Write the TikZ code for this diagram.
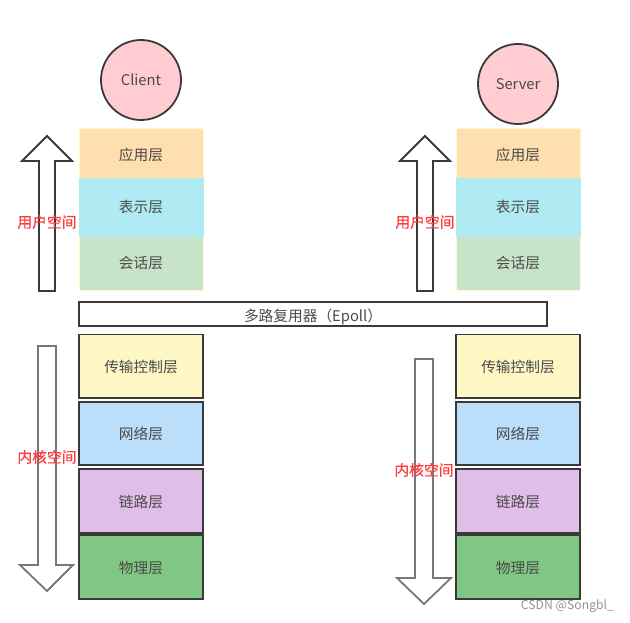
\documentclass[tikz,border=0pt]{standalone}
\usepackage{fontspec}
\setmainfont{Noto Sans CJK SC}
\newfontfamily\redfont[FakeBold=0.35]{Noto Sans CJK SC}
\definecolor{ink}{HTML}{3A3A3A}
\definecolor{txt}{HTML}{4A4A4A}
\definecolor{lblred}{HTML}{FF3B3B}
\definecolor{graystroke}{HTML}{777777}
\definecolor{FFCCD2}{HTML}{FFCCD2}
\definecolor{FFF9CC}{HTML}{FFF9CC}
\definecolor{appc}{HTML}{FFDFB0}
\definecolor{prec}{HTML}{B0EBF3}
\definecolor{sesc}{HTML}{C8E4C8}
\definecolor{trac}{HTML}{FFF8C4}
\definecolor{netc}{HTML}{BBDEFB}
\definecolor{linc}{HTML}{E1BEE7}
\definecolor{phyc}{HTML}{81C784}
\tikzset{
  layerbox/.style={minimum width=124pt,inner sep=0pt,outer sep=0pt,text=txt,font=\fontsize{14.7}{14.7}\selectfont,anchor=north west,line width=0.9pt,text height=12pt,text depth=0pt},
  hardbox/.style={layerbox,draw=ink,line width=1.8pt},
  round/.style={circle,draw=ink,line width=1.8pt,fill=FFCCD2,minimum size=80pt,inner sep=0pt,outer sep=0pt,text=txt,font=\fontsize{14.7}{14.7}\selectfont},
  uparrow/.style={draw=ink,line width=1.8pt,fill=white,line join=miter},
  downarrow/.style={draw=graystroke,line width=1.8pt,fill=white,line join=miter},
  spacelabel/.style={text=lblred,font=\fontsize{14.8}{14.8}\redfont,inner sep=0pt},
}
\newcommand{\stack}[2]{%
  \node[layerbox,draw=FFF9CC,fill=appc,minimum height=50pt,text height=16pt] (#2a) at (#1,128) {应用层};
  \node[layerbox,draw=FFF9CC,fill=sesc,minimum height=54pt] (#2c) at (#1,236) {会话层};
  \node[layerbox,draw=prec,fill=prec,minimum height=58pt] (#2b) at (#1,178) {表示层};
  \node[hardbox,fill=trac,minimum height=63.5pt] (#2d) at (#1,334.5) {传输控制层};
  \node[hardbox,fill=netc,minimum height=63pt] (#2e) at (#1,402) {网络层};
  \node[hardbox,fill=linc,minimum height=64pt] (#2f) at (#1,469) {链路层};
  \node[hardbox,fill=phyc,minimum height=64pt] (#2g) at (#1,535) {物理层};
}
\begin{document}
\begin{tikzpicture}[x=1pt,y=-1pt]
\useasboundingbox (0,0) rectangle (630,623);
% up arrows
\draw[uparrow] (47,136)--(72,161)--(55,161)--(55,291)--(39,291)--(39,161)--(22,161)--cycle;
\draw[uparrow] (425,136)--(450,161)--(433,161)--(433,291)--(417,291)--(417,161)--(400,161)--cycle;
% down arrows
\draw[downarrow] (38,346)--(56,346)--(56,565)--(73,565)--(47,591)--(20,565)--(38,565)--cycle;
\draw[downarrow] (415,359)--(433,359)--(433,578)--(451,578)--(424,604)--(397,578)--(415,578)--cycle;
\node[round] (client) at (141,80) {Client};
\node[round] (server) at (518,84) {Server};
\stack{79}{l}
\stack{456}{r}
\node[draw=ink,line width=1.8pt,fill=white,minimum width=468pt,minimum height=24pt,inner sep=0pt,outer sep=0pt,anchor=north west,text=txt,font=\fontsize{14.7}{14.7}\selectfont,text height=14pt,text depth=0pt] (mux) at (79,302) {多路复用器（Epoll）\hspace{7pt}};
\node[spacelabel] (ul) at (47,222) {用户空间};
\node[spacelabel] (kl) at (47,457) {内核空间};
\node[spacelabel] (ur) at (425,222) {用户空间};
\node[spacelabel] (kr) at (424,470) {内核空间};
\node[text=gray!85,font=\fontsize{12.2}{12.2}\selectfont,inner sep=0pt] (wm) at (567.5,606) {CSDN @Songbl\_};
\end{tikzpicture}
\end{document}
